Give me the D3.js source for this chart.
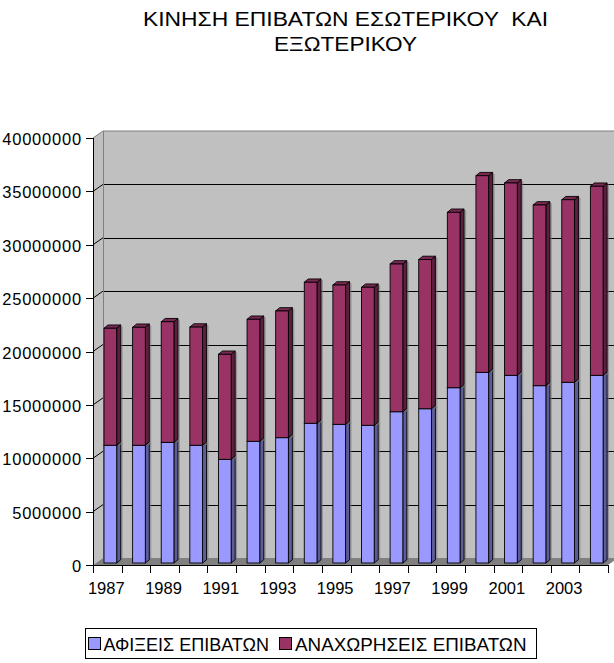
<!DOCTYPE html>
<html>
<head>
<meta charset="utf-8">
<script src="https://cdn.jsdelivr.net/npm/d3@7"></script>
<style>
  html, body { margin: 0; padding: 0; background: #fff; }
  svg { display: block; font-family: "Liberation Sans", Arial, sans-serif; }
</style>
</head>
<body>
<svg id="chart" width="614" height="663"></svg>
<script>
// ---- data ----
const years = [1987,1988,1989,1990,1991,1992,1993,1994,1995,1996,1997,1998,1999,2000,2001,2002,2003,2004];
const arrivals   = [11030000,11030000,11300000,11030000,9710000,11400000,11740000,13090000,12990000,12900000,14170000,14450000,16420000,17860000,17580000,16610000,16930000,17580000];
const departures = [10960000,11050000,11300000,11070000,9840000,11430000,11870000,13210000,13050000,12930000,13840000,13980000,16430000,18420000,18020000,16930000,17100000,17710000];
const yTicks = [0,5000000,10000000,15000000,20000000,25000000,30000000,35000000,40000000];
const xLabels = [1987,1989,1991,1993,1995,1997,1999,2001,2003];
const seriesNames = ["ΑΦΙΞΕΙΣ ΕΠΙΒΑΤΩΝ", "ΑΝΑΧΩΡΗΣΕΙΣ ΕΠΙΒΑΤΩΝ"];
const titleLines = ["ΚΙΝΗΣΗ ΕΠΙΒΑΤΩΝ ΕΣΩΤΕΡΙΚΟΥ  ΚΑΙ", "ΕΞΩΤΕΡΙΚΟΥ"];

(function () {
// ---- layout ----
const svg = d3.select("#chart");
const pL = 93, pR = 608, pT = 138, pB = 565;
const wallDx = 10, wallDy = 7;       // depth of the walls
const barDx = 4, barDy = 3.3;         // depth of the bars
const barShift = 2;                   // bar baseline lifted into the floor

const y = d3.scaleLinear().domain([0, 40000000]).range([pB, pT]);
const x = d3.scaleBand().domain(years).range([pL, pR]).paddingInner(0).paddingOuter(0);

const colors = {
  a: { front: "#9999ff", side: "#5c5c99", top: "#7a7acc" },
  d: { front: "#993366", side: "#5c1f3d", top: "#7a2952" }
};

// ---- title ----
const titleWidths = [405, 143];
svg.append("g").selectAll("text").data(titleLines).join("text")
  .attr("x", 345.5).attr("y", (d, i) => 25.7 + i * 25.3)
  .attr("text-anchor", "middle")
  .style("white-space", "pre")
  .attr("font-size", 19.5)
  .attr("textLength", (d, i) => titleWidths[i])
  .attr("lengthAdjust", "spacingAndGlyphs")
  .attr("fill", "#000")
  .text(d => d);

// ---- walls ----
const walls = svg.append("g");
walls.append("rect")
  .attr("x", pL + wallDx).attr("y", pT - wallDy)
  .attr("width", 640 - pL - wallDx).attr("height", pB - pT)
  .attr("fill", "#c0c0c0");
walls.append("path")
  .attr("d", `M${pL},${pT}L${pL + wallDx},${pT - wallDy}L${pL + wallDx},${pB - wallDy}L${pL},${pB}Z`)
  .attr("fill", "#c0c0c0");
walls.append("path")
  .attr("d", `M${pL},${pB}L${pR},${pB}L${pR + wallDx},${pB - wallDy}L${pL + wallDx},${pB - wallDy}Z`)
  .attr("fill", "#808080");

const grid = yTicks.filter(v => v > 0 && v < 40000000);
walls.selectAll("line.grid").data(grid).join("line")
  .attr("class", "grid")
  .attr("x1", pL + wallDx).attr("x2", 640)
  .attr("y1", d => Math.round(y(d) - wallDy) + 0.5).attr("y2", d => Math.round(y(d) - wallDy) + 0.5)
  .attr("stroke", "#000").attr("stroke-width", 1);
walls.selectAll("line.diag").data(grid).join("line")
  .attr("class", "diag")
  .attr("x1", pL).attr("x2", pL + wallDx)
  .attr("y1", d => y(d)).attr("y2", d => y(d) - wallDy)
  .attr("stroke", "#000").attr("stroke-width", 1);
walls.append("path")
  .attr("d", `M${pL},${pT}L${pL + wallDx},${pT - wallDy}L640,${pT - wallDy}`)
  .attr("fill", "none").attr("stroke", "#808080").attr("stroke-width", 1);
walls.append("line")
  .attr("x1", pL + wallDx + 0.5).attr("x2", pL + wallDx + 0.5)
  .attr("y1", pT - wallDy).attr("y2", pB - wallDy)
  .attr("stroke", "#808080").attr("stroke-width", 1);

// ---- bars ----
const barOffset = 11, barW = 12.7;
const stacks = years.map((yr, i) => ({
  year: yr,
  segs: [
    { key: "a", y0: 0, y1: arrivals[i] },
    { key: "d", y0: arrivals[i], y1: arrivals[i] + departures[i] }
  ]
}));

const barsG = svg.append("g");
stacks.forEach(s => {
  const x0 = x(s.year) + barOffset, x1 = x0 + barW;
  s.segs.forEach((seg, si) => {
    const yb = y(seg.y0) - barShift, yt = y(seg.y1) - barShift;
    const c = colors[seg.key];
    const g = barsG.append("g");
    g.append("path")
      .attr("d", `M${x1 + barDx + 0.5},${yt - barDy + 1}L${x1 + barDx + 2},${yt - barDy + 1.5}L${x1 + barDx + 2},${yb - 1}L${x1 + 1.5},${yb + 0.5}Z`)
      .attr("fill", "#7a7a7a").attr("opacity", 0.6);
    g.append("path")
      .attr("d", `M${x1},${yt}L${x1 + barDx},${yt - barDy}L${x1 + barDx},${yb - barDy}L${x1},${yb}Z`)
      .attr("fill", c.side).attr("stroke", "#000").attr("stroke-width", 0.9).attr("stroke-linejoin", "round");
    if (si === s.segs.length - 1) {
      g.append("path")
        .attr("d", `M${x0},${yt}L${x0 + barDx},${yt - barDy}L${x1 + barDx},${yt - barDy}L${x1},${yt}Z`)
        .attr("fill", c.top).attr("stroke", "#000").attr("stroke-width", 0.9).attr("stroke-linejoin", "round");
    }
    g.append("rect")
      .attr("x", x0).attr("y", yt).attr("width", barW).attr("height", yb - yt)
      .attr("fill", c.front).attr("stroke", "#000").attr("stroke-width", 0.9);
  });
});

// ---- axes ----
const axes = svg.append("g");
axes.append("line")
  .attr("x1", pL + 0.5).attr("x2", pL + 0.5).attr("y1", pT).attr("y2", pB)
  .attr("stroke", "#000").attr("stroke-width", 1);
axes.append("line")
  .attr("x1", pL).attr("x2", pR).attr("y1", pB + 0.5).attr("y2", pB + 0.5)
  .attr("stroke", "#000").attr("stroke-width", 1);

axes.selectAll("line.yt").data(yTicks).join("line")
  .attr("class", "yt")
  .attr("x1", pL - 7).attr("x2", pL)
  .attr("y1", d => Math.round(y(d)) + 0.5).attr("y2", d => Math.round(y(d)) + 0.5)
  .attr("stroke", "#000").attr("stroke-width", 1);
axes.selectAll("text.yl").data(yTicks).join("text")
  .attr("class", "yl")
  .attr("x", 82).attr("y", d => y(d) + 1)
  .attr("text-anchor", "end").attr("dominant-baseline", "central")
  .attr("font-size", 16.5).attr("letter-spacing", 0.8)
  .attr("fill", "#000")
  .text(d => String(d));

const bounds = years.map(yr => x(yr)).concat([pR]);
axes.selectAll("line.xt").data(bounds).join("line")
  .attr("class", "xt")
  .attr("x1", d => Math.round(d) + 0.5).attr("x2", d => Math.round(d) + 0.5)
  .attr("y1", pB).attr("y2", pB + 8)
  .attr("stroke", "#000").attr("stroke-width", 1);
axes.selectAll("text.xl").data(xLabels).join("text")
  .attr("class", "xl")
  .attr("x", d => x(d) + x.bandwidth() / 2 - 1)
  .attr("y", 594)
  .attr("text-anchor", "middle")
  .attr("font-size", 16.5)
  .attr("fill", "#000")
  .text(d => d);

// ---- legend ----
const lg = svg.append("g");
lg.append("rect")
  .attr("x", 85.5).attr("y", 628.5).attr("width", 451).attr("height", 30)
  .attr("fill", "#fff").attr("stroke", "#000").attr("stroke-width", 1);
const legendItems = [
  { name: seriesNames[0], color: colors.a.front, sx: 88, tx: 103.5, w: 165.5 },
  { name: seriesNames[1], color: colors.d.front, sx: 279, tx: 295, w: 231.5 }
];
legendItems.forEach(it => {
  lg.append("rect").attr("x", it.sx + 0.5).attr("y", 637.5).attr("width", 12).attr("height", 12)
    .attr("fill", it.color).attr("stroke", "#000").attr("stroke-width", 1);
  lg.append("text").attr("x", it.tx).attr("y", 650.7)
    .attr("font-size", 17.5)
    .attr("textLength", it.w).attr("lengthAdjust", "spacingAndGlyphs")
    .attr("fill", "#000").text(it.name);
});
})();
</script>
</body>
</html>
